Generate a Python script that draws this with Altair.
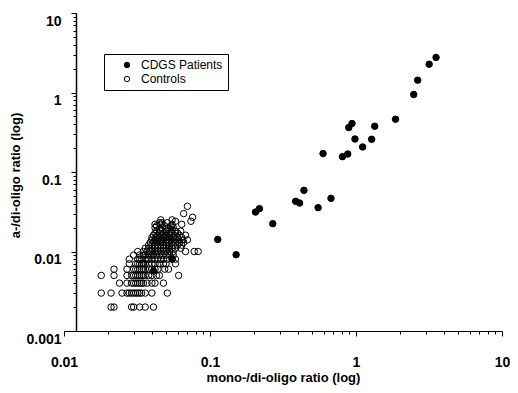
import altair as alt
import pandas as pd

# CDGS patients (filled circles): mono-/di-oligo ratio vs a-/di-oligo ratio
patient_x = [0.113, 0.151, 0.205, 0.218, 0.269, 0.386, 0.411, 0.440, 0.550, 0.674,
             0.595, 0.808, 0.878, 0.892, 0.939, 0.984, 1.11, 1.28, 1.344, 1.865,
             2.485, 2.645, 3.17, 3.534, 0.055, 0.041]
patient_y = [0.0142, 0.0091, 0.0313, 0.0346, 0.0224, 0.0428, 0.0407, 0.0588, 0.0356, 0.0466,
             0.1705, 0.156, 0.1685, 0.362, 0.407, 0.260, 0.2065, 0.258, 0.376, 0.461,
             0.944, 1.43, 2.27, 2.76, 0.0081, 0.0057]

# Controls (open circles), values in thousandths: one y level per row, with its x values
control_y_milli = [2, 3, 4, 5, 6, 7, 8, 9, 10, 11, 12, 13, 14, 15, 16, 17, 18, 19, 20,
                   21, 22, 23, 24, 25, 27, 30, 37]
control_x_milli = [
    [21, 22, 29, 30, 33, 36, 41],
    [18, 21, 25, 27, 28, 29, 30, 31, 32, 33, 34, 36, 40, 51],
    [24, 27, 29, 30, 31, 32, 33, 34, 35, 37, 40, 42, 48],
    [18, 22, 27, 29, 30, 31, 32, 33, 34, 35, 36, 38, 40, 43, 45, 61],
    [22, 27, 30, 31, 32, 33, 34, 35, 36, 38, 40, 42, 44, 49, 52],
    [28, 31, 32, 33, 34, 35, 36, 38, 40, 42, 45, 48, 50, 58],
    [28, 32, 33, 34, 36, 37, 38, 40, 42, 44, 46, 48, 51, 55, 58],
    [30, 33, 35, 36, 38, 40, 41, 43, 45, 47, 50, 53, 56],
    [32, 35, 37, 39, 40, 42, 44, 46, 48, 50, 53, 56, 68, 78, 83],
    [36, 38, 40, 42, 44, 46, 48, 50, 52, 55, 58, 63],
    [38, 40, 42, 44, 46, 48, 50, 53, 56, 60, 64],
    [39, 41, 43, 45, 47, 50, 52, 55, 58, 62, 66],
    [40, 42, 44, 46, 48, 51, 54, 57, 61, 65, 70],
    [40, 43, 45, 48, 50, 53, 56, 60, 64],
    [41, 44, 47, 50, 53, 57, 62, 68],
    [42, 45, 48, 52, 55, 60],
    [43, 46, 50, 54, 58, 63],
    [45, 50, 55],
    [42, 47, 52, 56],
    [43, 49, 54],
    [42, 46, 55, 64],
    [45, 47, 51],
    [58, 74],
    [46, 55],
    [76],
    [66],
    [70],
]

x_tick_values = [0.01, 0.02, 0.03, 0.04, 0.05, 0.06, 0.07, 0.08, 0.09,
                 0.1, 0.2, 0.3, 0.4, 0.5, 0.6, 0.7, 0.8, 0.9,
                 1, 2, 3, 4, 5, 6, 7, 8, 9, 10]
y_tick_values = [0.001, 0.002, 0.003, 0.004, 0.005, 0.006, 0.007, 0.008, 0.009,
                 0.01, 0.02, 0.03, 0.04, 0.05, 0.06, 0.07, 0.08, 0.09,
                 0.1, 0.2, 0.3, 0.4, 0.5, 0.6, 0.7, 0.8, 0.9,
                 1, 2, 3, 4, 5, 6, 7, 8, 9, 10]

groups = ["CDGS Patients", "Controls"]

rows = []
for yv, xs in zip(control_y_milli, control_x_milli):
    for xv in xs:
        rows.append({"x": xv / 1000, "y": yv / 1000, "group": "Controls"})
for xv, yv in zip(patient_x, patient_y):
    rows.append({"x": xv, "y": yv, "group": "CDGS Patients"})
df = pd.DataFrame(rows)

FONT = "Liberation Sans"
major = "abs(log(datum.value) / LN10 - round(log(datum.value) / LN10)) < 0.000001"
label_expr = f"{major} ? format(datum.value, '~g') : ''"

common_axis = dict(
    labelExpr=label_expr,
    labelFont=FONT, labelFontSize=14, labelFontWeight="bold", labelColor="black",
    titleFont=FONT, titleFontSize=13, titleFontWeight="bold", titleColor="black",
    domainColor="black", tickColor="black", grid=False,
    labelOverlap=False, labelFlush=False,
    tickSize={"condition": {"test": major, "value": 5}, "value": 3},
)

x_axis_args = dict(common_axis)
x_axis_args.update(values=x_tick_values, labelPadding=19, titlePadding=2, domainWidth=1)
y_axis_args = dict(common_axis)
y_axis_args.update(values=y_tick_values, labelPadding=10, offset=-12,
                   labelOffset=8, domainWidth=1.5, titleX=-54, titleY=162)

chart = alt.Chart(df).mark_point(
    size=42, stroke="black", strokeWidth=1, opacity=1
).encode(
    x=alt.X("x:Q", title="mono-/di-oligo ratio (log)",
            scale=alt.Scale(type="log", domain=[0.01, 10], nice=False),
            axis=alt.Axis(**x_axis_args)),
    y=alt.Y("y:Q", title="a-/di-oligo ratio (log)",
            scale=alt.Scale(type="log", domain=[0.001, 10], nice=False),
            axis=alt.Axis(**y_axis_args)),
    fill=alt.Fill("group:N",
                  scale=alt.Scale(domain=groups, range=["black", "transparent"]),
                  legend=alt.Legend(title=None, orient="none", legendX=40, legendY=41,
                                    strokeColor="black", fillColor="white", padding=5,
                                    symbolType="circle", symbolSize=30,
                                    symbolStrokeColor="black", symbolStrokeWidth=1,
                                    symbolOffset=12, labelOffset=8, rowPadding=2,
                                    labelFont=FONT, labelFontSize=12, labelColor="black")),
).properties(
    width=438, height=318,
    autosize=alt.AutoSizeParams(type="none"),
    padding={"left": 56, "top": 5, "right": 8, "bottom": 54},
).configure_view(stroke=None)

chart.save("out.html", embed_options={"renderer": "svg", "actions": False})
